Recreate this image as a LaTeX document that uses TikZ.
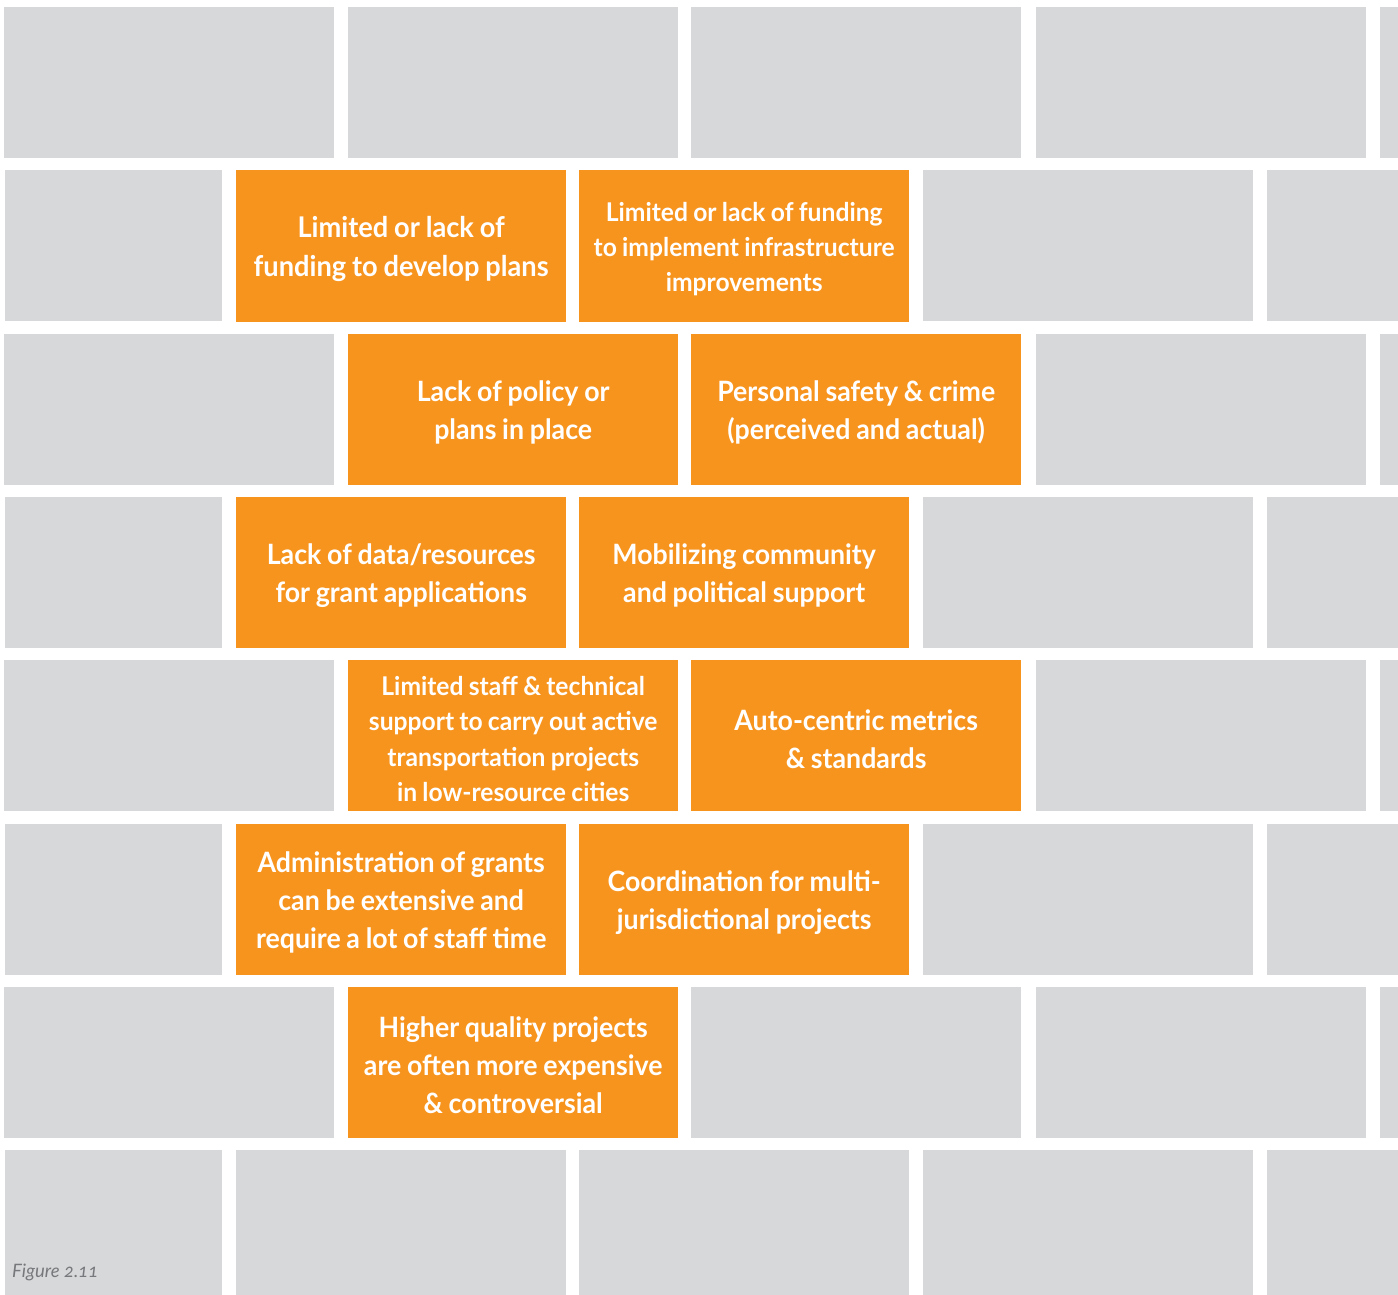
\documentclass[tikz,border=0pt]{standalone}
\usepackage{fontspec}
\setmainfont{Lato}
\newfontfamily\brickfont{Lato}[FakeStretch=0.955, WordSpace=0.88]
\newfontfamily\capfont{Lato}[Numbers=OldStyle]
\definecolor{brickgray}{HTML}{D7D8DA}
\definecolor{brickorange}{HTML}{F7941E}
\definecolor{capgray}{HTML}{77787B}
\begin{document}
\begin{tikzpicture}[x=1pt,y=-1pt,
  graybrick/.style={fill=brickgray},
  obrick/.style={fill=brickorange, minimum width=330pt, minimum height=151pt,
     inner sep=0pt, anchor=north west},
  btext/.style={text=white, inner sep=0pt, align=center, yshift=-3pt},
  fA/.style={font=\brickfont\bfseries\fontsize{28.5}{38.5}\selectfont},
  fB/.style={font=\brickfont\bfseries\fontsize{28}{38}\selectfont},
  fC/.style={font=\brickfont\bfseries\fontsize{25.8}{35.4}\selectfont}]
\useasboundingbox (0,0) rectangle (1398,1295);
\fill[white] (0,0) rectangle (1398,1295);
\begin{scope}
\clip (0,0) rectangle (1398,1295);
% odd rows
\foreach \r in {0,2,4,6}{
  \foreach \xx in {4,348,691,1036,1380}{
    \fill[graybrick] (\xx,{7+163.3*\r}) rectangle ++(330,151);
  }
}
% even rows (offset)
\foreach \r in {1,3,5,7}{
  \fill[graybrick] (5,{7+163.3*\r}) rectangle (222,{158+163.3*\r});
  \foreach \xx in {236,579,923,1267}{
    \fill[graybrick] (\xx,{7+163.3*\r}) rectangle ++(330,151);
  }
}
\end{scope}
% orange bricks
\node[obrick] (b1) at (236,170.3) {};
\node[obrick] (b2) at (579,170.3) {};
\node[obrick] (b3) at (348,333.6) {};
\node[obrick] (b4) at (691,333.6) {};
\node[obrick] (b5) at (236,496.9) {};
\node[obrick] (b6) at (579,496.9) {};
\node[obrick] (b7) at (348,660.2) {};
\node[obrick] (b8) at (691,660.2) {};
\node[obrick] (b9) at (236,823.5) {};
\node[obrick] (b10) at (579,823.5) {};
\node[obrick] (b11) at (348,986.8) {};
% texts
\node[btext,fA] (t1) at (b1.center) {Limited or lack of\\funding to develop plans};
\node[btext,fC] (t2) at (b2.center) {Limited or lack of funding\\to implement infrastructure\\improvements};
\node[btext,fB] (t3) at (b3.center) {Lack of policy or\\plans in place};
\node[btext,fB] (t4) at (b4.center) {Personal safety \& crime\\(perceived and actual)};
\node[btext,fB] (t5) at (b5.center) {Lack of data/resources\\for grant applications};
\node[btext,fB] (t6) at (b6.center) {Mobilizing community\\and political support};
\node[btext,fC] (t7) at (b7.center) {Limited staff \& technical\\support to carry out active\\transportation projects\\in low-resource cities};
\node[btext,fB] (t8) at (b8.center) {Auto-centric metrics\\\& standards};
\node[btext,fB] (t9) at (b9.center) {Administration of grants\\can be extensive and\\require a lot of staff time};
\node[btext,fB] (t10) at (b10.center) {Coordination for multi-\\jurisdictional projects};
\node[btext,fB] (t11) at (b11.center) {Higher quality projects\\are often more expensive\\\& controversial};
\node[anchor=base west, text=capgray, font=\capfont\itshape\fontsize{18.5}{22}\selectfont, inner sep=0pt] (cap) at (12,1277) {Figure 2.11};
\end{tikzpicture}
\end{document}
